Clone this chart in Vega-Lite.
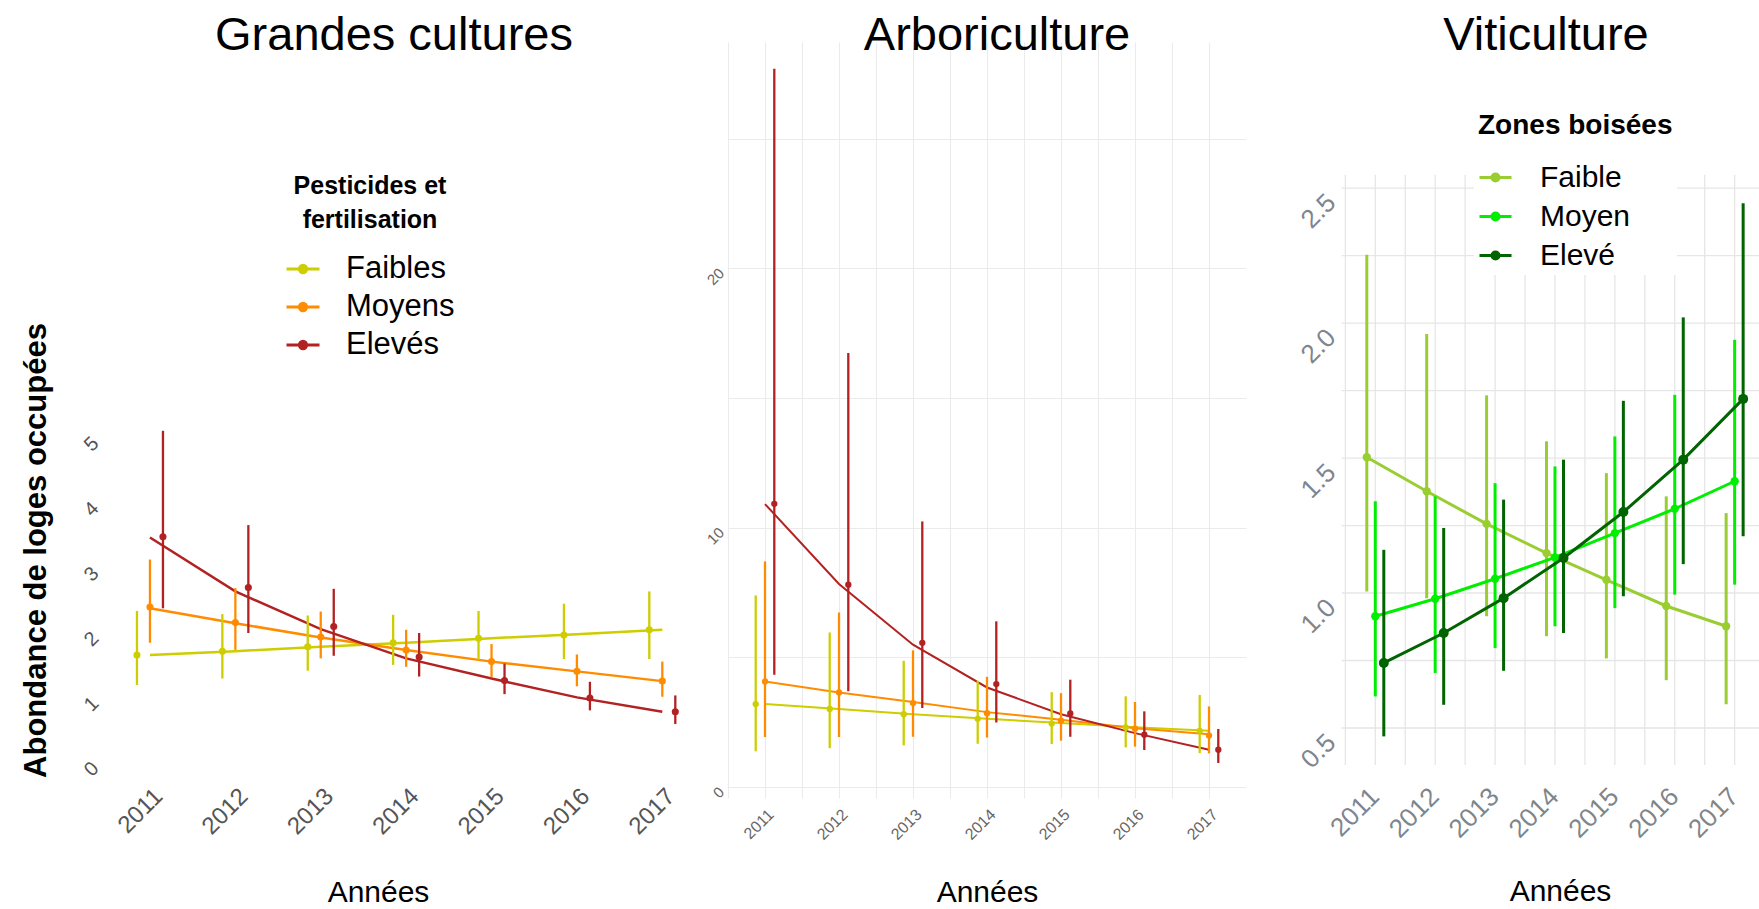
{
  "$schema": "https://vega.github.io/schema/vega-lite/v6.json",
  "padding": {"left": 20, "top": 12, "right": 0, "bottom": 0},
  "bounds": "flush",
  "spacing": 23,
  "config": {
    "font": "Liberation Sans",
    "view": {"stroke": null},
    "axis": {"domain": false, "ticks": false, "grid": false}
  },
  "resolve": {"scale": {"color": "independent"}},
  "datasets": {
    "gc": [
      {"annee": 2011, "niveau": "Faibles", "moy": 1.69, "bas": 1.23, "haut": 2.37},
      {"annee": 2012, "niveau": "Faibles", "moy": 1.75, "bas": 1.33, "haut": 2.32},
      {"annee": 2013, "niveau": "Faibles", "moy": 1.82, "bas": 1.45, "haut": 2.30},
      {"annee": 2014, "niveau": "Faibles", "moy": 1.88, "bas": 1.54, "haut": 2.31},
      {"annee": 2015, "niveau": "Faibles", "moy": 1.95, "bas": 1.62, "haut": 2.37},
      {"annee": 2016, "niveau": "Faibles", "moy": 2.00, "bas": 1.63, "haut": 2.48},
      {"annee": 2017, "niveau": "Faibles", "moy": 2.08, "bas": 1.63, "haut": 2.67},
      {"annee": 2011, "niveau": "Moyens", "moy": 2.43, "bas": 1.88, "haut": 3.16},
      {"annee": 2012, "niveau": "Moyens", "moy": 2.19, "bas": 1.77, "haut": 2.72},
      {"annee": 2013, "niveau": "Moyens", "moy": 1.97, "bas": 1.64, "haut": 2.36},
      {"annee": 2014, "niveau": "Moyens", "moy": 1.77, "bas": 1.51, "haut": 2.08},
      {"annee": 2015, "niveau": "Moyens", "moy": 1.59, "bas": 1.35, "haut": 1.86},
      {"annee": 2016, "niveau": "Moyens", "moy": 1.44, "bas": 1.21, "haut": 1.70},
      {"annee": 2017, "niveau": "Moyens", "moy": 1.29, "bas": 1.05, "haut": 1.59},
      {"annee": 2011, "niveau": "Elevés", "moy": 3.51, "bas": 2.41, "haut": 5.14},
      {"annee": 2012, "niveau": "Elevés", "moy": 2.73, "bas": 2.03, "haut": 3.69},
      {"annee": 2013, "niveau": "Elevés", "moy": 2.13, "bas": 1.68, "haut": 2.71},
      {"annee": 2014, "niveau": "Elevés", "moy": 1.66, "bas": 1.36, "haut": 2.03},
      {"annee": 2015, "niveau": "Elevés", "moy": 1.30, "bas": 1.09, "haut": 1.56},
      {"annee": 2016, "niveau": "Elevés", "moy": 1.03, "bas": 0.84, "haut": 1.28},
      {"annee": 2017, "niveau": "Elevés", "moy": 0.82, "bas": 0.63, "haut": 1.07}
    ],
    "gc_fit": [
      {"annee": 2011, "niveau": "Faibles", "fit": 1.69},
      {"annee": 2012, "niveau": "Faibles", "fit": 1.75},
      {"annee": 2013, "niveau": "Faibles", "fit": 1.82},
      {"annee": 2014, "niveau": "Faibles", "fit": 1.88},
      {"annee": 2015, "niveau": "Faibles", "fit": 1.95},
      {"annee": 2016, "niveau": "Faibles", "fit": 2.01},
      {"annee": 2017, "niveau": "Faibles", "fit": 2.08},
      {"annee": 2011, "niveau": "Moyens", "fit": 2.41},
      {"annee": 2012, "niveau": "Moyens", "fit": 2.18},
      {"annee": 2013, "niveau": "Moyens", "fit": 1.96},
      {"annee": 2014, "niveau": "Moyens", "fit": 1.77},
      {"annee": 2015, "niveau": "Moyens", "fit": 1.59},
      {"annee": 2016, "niveau": "Moyens", "fit": 1.44},
      {"annee": 2017, "niveau": "Moyens", "fit": 1.29},
      {"annee": 2011, "niveau": "Elevés", "fit": 3.50},
      {"annee": 2012, "niveau": "Elevés", "fit": 2.67},
      {"annee": 2013, "niveau": "Elevés", "fit": 2.09},
      {"annee": 2014, "niveau": "Elevés", "fit": 1.64},
      {"annee": 2015, "niveau": "Elevés", "fit": 1.33},
      {"annee": 2016, "niveau": "Elevés", "fit": 1.04},
      {"annee": 2017, "niveau": "Elevés", "fit": 0.82}
    ],
    "ar": [
      {"annee": 2011, "niveau": "Faibles", "moy": 3.20, "bas": 1.38, "haut": 7.39},
      {"annee": 2012, "niveau": "Faibles", "moy": 3.01, "bas": 1.50, "haut": 5.96},
      {"annee": 2013, "niveau": "Faibles", "moy": 2.81, "bas": 1.61, "haut": 4.87},
      {"annee": 2014, "niveau": "Faibles", "moy": 2.63, "bas": 1.67, "haut": 4.10},
      {"annee": 2015, "niveau": "Faibles", "moy": 2.45, "bas": 1.66, "haut": 3.66},
      {"annee": 2016, "niveau": "Faibles", "moy": 2.30, "bas": 1.53, "haut": 3.50},
      {"annee": 2017, "niveau": "Faibles", "moy": 2.17, "bas": 1.31, "haut": 3.55},
      {"annee": 2011, "niveau": "Moyens", "moy": 4.07, "bas": 1.93, "haut": 8.70},
      {"annee": 2012, "niveau": "Moyens", "moy": 3.65, "bas": 1.93, "haut": 6.73},
      {"annee": 2013, "niveau": "Moyens", "moy": 3.24, "bas": 1.94, "haut": 5.27},
      {"annee": 2014, "niveau": "Moyens", "moy": 2.85, "bas": 1.91, "haut": 4.25},
      {"annee": 2015, "niveau": "Moyens", "moy": 2.56, "bas": 1.79, "haut": 3.62},
      {"annee": 2016, "niveau": "Moyens", "moy": 2.25, "bas": 1.56, "haut": 3.28},
      {"annee": 2017, "niveau": "Moyens", "moy": 1.99, "bas": 1.30, "haut": 3.11},
      {"annee": 2011, "niveau": "Elevés", "moy": 10.92, "bas": 4.33, "haut": 27.69},
      {"annee": 2012, "niveau": "Elevés", "moy": 7.80, "bas": 3.69, "haut": 16.73},
      {"annee": 2013, "niveau": "Elevés", "moy": 5.56, "bas": 3.05, "haut": 10.24},
      {"annee": 2014, "niveau": "Elevés", "moy": 3.97, "bas": 2.49, "haut": 6.39},
      {"annee": 2015, "niveau": "Elevés", "moy": 2.84, "bas": 1.94, "haut": 4.14},
      {"annee": 2016, "niveau": "Elevés", "moy": 2.02, "bas": 1.43, "haut": 2.92},
      {"annee": 2017, "niveau": "Elevés", "moy": 1.44, "bas": 0.93, "haut": 2.24}
    ],
    "ar_fit": [
      {"annee": 2011, "niveau": "Faibles", "fit": 3.20},
      {"annee": 2012, "niveau": "Faibles", "fit": 3.01},
      {"annee": 2013, "niveau": "Faibles", "fit": 2.81},
      {"annee": 2014, "niveau": "Faibles", "fit": 2.63},
      {"annee": 2015, "niveau": "Faibles", "fit": 2.47},
      {"annee": 2016, "niveau": "Faibles", "fit": 2.31},
      {"annee": 2017, "niveau": "Faibles", "fit": 2.17},
      {"annee": 2011, "niveau": "Moyens", "fit": 4.07},
      {"annee": 2012, "niveau": "Moyens", "fit": 3.65},
      {"annee": 2013, "niveau": "Moyens", "fit": 3.28},
      {"annee": 2014, "niveau": "Moyens", "fit": 2.89},
      {"annee": 2015, "niveau": "Moyens", "fit": 2.60},
      {"annee": 2016, "niveau": "Moyens", "fit": 2.27},
      {"annee": 2017, "niveau": "Moyens", "fit": 2.04},
      {"annee": 2011, "niveau": "Elevés", "fit": 10.91},
      {"annee": 2012, "niveau": "Elevés", "fit": 7.83},
      {"annee": 2013, "niveau": "Elevés", "fit": 5.49},
      {"annee": 2014, "niveau": "Elevés", "fit": 3.84},
      {"annee": 2015, "niveau": "Elevés", "fit": 2.81},
      {"annee": 2016, "niveau": "Elevés", "fit": 2.08},
      {"annee": 2017, "niveau": "Elevés", "fit": 1.44}
    ],
    "vi": [
      {"annee": 2011, "zone": "Faible", "moy": 1.503, "bas": 1.006, "haut": 2.253},
      {"annee": 2012, "zone": "Faible", "moy": 1.377, "bas": 0.981, "haut": 1.959},
      {"annee": 2013, "zone": "Faible", "moy": 1.256, "bas": 0.914, "haut": 1.732},
      {"annee": 2014, "zone": "Faible", "moy": 1.148, "bas": 0.840, "haut": 1.562},
      {"annee": 2015, "zone": "Faible", "moy": 1.049, "bas": 0.758, "haut": 1.444},
      {"annee": 2016, "zone": "Faible", "moy": 0.952, "bas": 0.677, "haut": 1.358},
      {"annee": 2017, "zone": "Faible", "moy": 0.877, "bas": 0.588, "haut": 1.296},
      {"annee": 2011, "zone": "Moyen", "moy": 0.914, "bas": 0.617, "haut": 1.340},
      {"annee": 2012, "zone": "Moyen", "moy": 0.979, "bas": 0.704, "haut": 1.358},
      {"annee": 2013, "zone": "Moyen", "moy": 1.053, "bas": 0.796, "haut": 1.407},
      {"annee": 2014, "zone": "Moyen", "moy": 1.132, "bas": 0.877, "haut": 1.469},
      {"annee": 2015, "zone": "Moyen", "moy": 1.222, "bas": 0.944, "haut": 1.580},
      {"annee": 2016, "zone": "Moyen", "moy": 1.312, "bas": 0.994, "haut": 1.734},
      {"annee": 2017, "zone": "Moyen", "moy": 1.414, "bas": 1.031, "haut": 1.938},
      {"annee": 2011, "zone": "Elevé", "moy": 0.741, "bas": 0.469, "haut": 1.160},
      {"annee": 2012, "zone": "Elevé", "moy": 0.852, "bas": 0.586, "haut": 1.241},
      {"annee": 2013, "zone": "Elevé", "moy": 0.981, "bas": 0.712, "haut": 1.346},
      {"annee": 2014, "zone": "Elevé", "moy": 1.130, "bas": 0.852, "haut": 1.494},
      {"annee": 2015, "zone": "Elevé", "moy": 1.300, "bas": 0.988, "haut": 1.712},
      {"annee": 2016, "zone": "Elevé", "moy": 1.494, "bas": 1.107, "haut": 2.021},
      {"annee": 2017, "zone": "Elevé", "moy": 1.719, "bas": 1.210, "haut": 2.444}
    ],
    "vi_gx": [
      {"g": 2010.5}, {"g": 2011}, {"g": 2011.5}, {"g": 2012}, {"g": 2012.5}, {"g": 2013}, {"g": 2013.5}, {"g": 2014},
      {"g": 2014.5}, {"g": 2015}, {"g": 2015.5}, {"g": 2016}, {"g": 2016.5}, {"g": 2017}
    ],
    "vi_gy": [
      {"g": 0.5}, {"g": 0.75}, {"g": 1.0}, {"g": 1.25}, {"g": 1.5}, {"g": 1.75}, {"g": 2.0}, {"g": 2.25}, {"g": 2.5}
    ]
  },
  "hconcat": [
    {
      "width": 602,
      "height": 736,
      "title": {"text": "Grandes cultures", "fontSize": 47, "fontWeight": "normal", "color": "black", "frame": "group", "anchor": "middle", "baseline": "alphabetic", "offset": -55, "dx": -10},
      "layer": [
        {
          "data": {"name": "gc_fit"},
          "mark": {"type": "line", "strokeWidth": 2.5},
          "encoding": {
            "x": {"field": "annee", "type": "quantitative", "title": "Années", "scale": {"domain": [2010.45, 2017.5], "nice": false, "zero": false}, "axis": {"values": [2011, 2012, 2013, 2014, 2015, 2016, 2017], "tickCount": 40, "format": "d", "labelAngle": -45, "labelAlign": "right", "labelBaseline": "top", "labelFontSize": 24, "labelColor": "#555555", "labelPadding": 6, "labelFlush": false, "labelOverlap": false, "titleFontSize": 30, "titleFontWeight": "normal", "titleColor": "black", "titlePadding": 39, "titleX": 275}},
            "y": {"field": "fit", "type": "quantitative", "title": "Abondance de loges occupées", "scale": {"domain": [-0.2, 11.12], "nice": false, "zero": false}, "axis": {"values": [0, 1, 2, 3, 4, 5], "tickCount": 40, "format": "d", "labelAngle": -45, "labelAlign": "right", "labelBaseline": "middle", "labelFontSize": 20, "labelColor": "#555555", "labelPadding": 8, "labelOverlap": false, "labelFlush": false, "titleFontSize": 31, "titleFontWeight": "bold", "titleColor": "black", "titlePadding": 28, "titleY": 508}},
            "color": {"field": "niveau", "type": "nominal", "scale": {"domain": ["Faibles", "Moyens", "Elevés"], "range": ["#CDCD00", "#FF8C00", "#B22222"]}, "legend": {"orient": "none", "legendX": 182, "legendY": 132, "title": ["Pesticides et", "fertilisation"], "titleFontSize": 25, "titleFontWeight": "bold", "titleColor": "black", "titleLineHeight": 34, "titleAnchor": "middle", "titleAlign": "center", "titlePadding": 18, "titleLimit": 400, "labelFontSize": 31, "labelColor": "black", "labelOffset": 25, "labelLimit": 300, "symbolType": "M-1,0H1M-0.22,0A0.22,0.22,0,1,0,0.22,0A0.22,0.22,0,1,0,-0.22,0", "symbolSize": 1089, "symbolStrokeWidth": 3, "rowPadding": 5, "padding": 0}}
          }
        },
        {
          "data": {"name": "gc"},
          "transform": [{"filter": "datum.niveau === 'Faibles'"}],
          "layer": [
            {"mark": {"type": "rule", "strokeWidth": 2.3, "xOffset": -13}, "encoding": {
              "x": {"field": "annee", "type": "quantitative", "title": "Années", "scale": {"domain": [2010.45, 2017.5], "nice": false, "zero": false}},
              "y": {"field": "bas", "type": "quantitative", "title": "Abondance de loges occupées", "scale": {"domain": [-0.2, 11.12], "nice": false, "zero": false}},
              "y2": {"field": "haut"},
              "color": {"field": "niveau", "type": "nominal", "scale": {"domain": ["Faibles", "Moyens", "Elevés"], "range": ["#CDCD00", "#FF8C00", "#B22222"]}}
            }},
            {"mark": {"type": "point", "filled": true, "opacity": 1, "size": 50, "xOffset": -13}, "encoding": {
              "x": {"field": "annee", "type": "quantitative", "title": "Années", "scale": {"domain": [2010.45, 2017.5], "nice": false, "zero": false}},
              "y": {"field": "moy", "type": "quantitative", "title": "Abondance de loges occupées", "scale": {"domain": [-0.2, 11.12], "nice": false, "zero": false}},
              "color": {"field": "niveau", "type": "nominal", "scale": {"domain": ["Faibles", "Moyens", "Elevés"], "range": ["#CDCD00", "#FF8C00", "#B22222"]}}
            }}
          ]
        },
        {
          "data": {"name": "gc"},
          "transform": [{"filter": "datum.niveau === 'Moyens'"}],
          "layer": [
            {"mark": {"type": "rule", "strokeWidth": 2.3}, "encoding": {
              "x": {"field": "annee", "type": "quantitative", "title": "Années", "scale": {"domain": [2010.45, 2017.5], "nice": false, "zero": false}},
              "y": {"field": "bas", "type": "quantitative", "title": "Abondance de loges occupées", "scale": {"domain": [-0.2, 11.12], "nice": false, "zero": false}},
              "y2": {"field": "haut"},
              "color": {"field": "niveau", "type": "nominal", "scale": {"domain": ["Faibles", "Moyens", "Elevés"], "range": ["#CDCD00", "#FF8C00", "#B22222"]}}
            }},
            {"mark": {"type": "point", "filled": true, "opacity": 1, "size": 50}, "encoding": {
              "x": {"field": "annee", "type": "quantitative", "title": "Années", "scale": {"domain": [2010.45, 2017.5], "nice": false, "zero": false}},
              "y": {"field": "moy", "type": "quantitative", "title": "Abondance de loges occupées", "scale": {"domain": [-0.2, 11.12], "nice": false, "zero": false}},
              "color": {"field": "niveau", "type": "nominal", "scale": {"domain": ["Faibles", "Moyens", "Elevés"], "range": ["#CDCD00", "#FF8C00", "#B22222"]}}
            }}
          ]
        },
        {
          "data": {"name": "gc"},
          "transform": [{"filter": "datum.niveau === 'Elevés'"}],
          "layer": [
            {"mark": {"type": "rule", "strokeWidth": 2.3, "xOffset": 13}, "encoding": {
              "x": {"field": "annee", "type": "quantitative", "title": "Années", "scale": {"domain": [2010.45, 2017.5], "nice": false, "zero": false}},
              "y": {"field": "bas", "type": "quantitative", "title": "Abondance de loges occupées", "scale": {"domain": [-0.2, 11.12], "nice": false, "zero": false}},
              "y2": {"field": "haut"},
              "color": {"field": "niveau", "type": "nominal", "scale": {"domain": ["Faibles", "Moyens", "Elevés"], "range": ["#CDCD00", "#FF8C00", "#B22222"]}}
            }},
            {"mark": {"type": "point", "filled": true, "opacity": 1, "size": 50, "xOffset": 13}, "encoding": {
              "x": {"field": "annee", "type": "quantitative", "title": "Années", "scale": {"domain": [2010.45, 2017.5], "nice": false, "zero": false}},
              "y": {"field": "moy", "type": "quantitative", "title": "Abondance de loges occupées", "scale": {"domain": [-0.2, 11.12], "nice": false, "zero": false}},
              "color": {"field": "niveau", "type": "nominal", "scale": {"domain": ["Faibles", "Moyens", "Elevés"], "range": ["#CDCD00", "#FF8C00", "#B22222"]}}
            }}
          ]
        }
      ]
    },
    {
      "width": 518,
      "height": 756,
      "title": {"text": "Arboriculture", "fontSize": 47, "fontWeight": "normal", "color": "black", "frame": "group", "anchor": "middle", "baseline": "alphabetic", "offset": -55, "dx": 10},
      "layer": [
        {
          "data": {"name": "ar_fit"},
          "mark": {"type": "line", "strokeWidth": 2},
          "encoding": {
            "x": {"field": "annee", "type": "quantitative", "title": "Années", "scale": {"domain": [2010.5, 2017.5], "nice": false, "zero": false}, "axis": {"values": [2010.5, 2011, 2011.5, 2012, 2012.5, 2013, 2013.5, 2014, 2014.5, 2015, 2015.5, 2016, 2016.5, 2017], "tickCount": 40, "labelExpr": "datum.value % 1 == 0 ? format(datum.value, 'd') : ''", "grid": true, "gridColor": "#EBEBEB", "gridWidth": 1.1, "labelAngle": -45, "labelAlign": "right", "labelBaseline": "top", "labelFontSize": 16, "labelColor": "#666666", "labelPadding": 8, "labelFlush": false, "labelOverlap": false, "titleFontSize": 30, "titleFontWeight": "normal", "titleColor": "black", "titlePadding": 35}},
            "y": {"field": "fit", "type": "quantitative", "title": null, "scale": {"domain": [-0.42, 28.72], "nice": false, "zero": false}, "axis": {"values": [0, 5, 10, 15, 20, 25], "tickCount": 40, "labelExpr": "datum.value % 10 == 0 ? format(datum.value, 'd') : ''", "grid": true, "gridColor": "#EBEBEB", "gridWidth": 1.1, "labelAngle": -45, "labelAlign": "right", "labelBaseline": "middle", "labelFontSize": 15, "labelColor": "#666666", "labelPadding": 7, "labelOffset": 2, "labelOverlap": false, "labelFlush": false}},
            "color": {"field": "niveau", "type": "nominal", "scale": {"domain": ["Faibles", "Moyens", "Elevés"], "range": ["#CDCD00", "#FF8C00", "#B22222"]}, "legend": null}
          }
        },
        {
          "data": {"name": "ar"},
          "transform": [{"filter": "datum.niveau === 'Faibles'"}],
          "layer": [
            {"mark": {"type": "rule", "strokeWidth": 2.3, "xOffset": -9.3}, "encoding": {
              "x": {"field": "annee", "type": "quantitative", "title": "Années", "scale": {"domain": [2010.5, 2017.5], "nice": false, "zero": false}},
              "y": {"field": "bas", "type": "quantitative", "title": null, "scale": {"domain": [-0.42, 28.72], "nice": false, "zero": false}},
              "y2": {"field": "haut"},
              "color": {"field": "niveau", "type": "nominal", "scale": {"domain": ["Faibles", "Moyens", "Elevés"], "range": ["#CDCD00", "#FF8C00", "#B22222"]}, "legend": null}
            }},
            {"mark": {"type": "point", "filled": true, "opacity": 1, "size": 40, "xOffset": -9.3}, "encoding": {
              "x": {"field": "annee", "type": "quantitative", "title": "Années", "scale": {"domain": [2010.5, 2017.5], "nice": false, "zero": false}},
              "y": {"field": "moy", "type": "quantitative", "title": null, "scale": {"domain": [-0.42, 28.72], "nice": false, "zero": false}},
              "color": {"field": "niveau", "type": "nominal", "scale": {"domain": ["Faibles", "Moyens", "Elevés"], "range": ["#CDCD00", "#FF8C00", "#B22222"]}, "legend": null}
            }}
          ]
        },
        {
          "data": {"name": "ar"},
          "transform": [{"filter": "datum.niveau === 'Moyens'"}],
          "layer": [
            {"mark": {"type": "rule", "strokeWidth": 2.3}, "encoding": {
              "x": {"field": "annee", "type": "quantitative", "title": "Années", "scale": {"domain": [2010.5, 2017.5], "nice": false, "zero": false}},
              "y": {"field": "bas", "type": "quantitative", "title": null, "scale": {"domain": [-0.42, 28.72], "nice": false, "zero": false}},
              "y2": {"field": "haut"},
              "color": {"field": "niveau", "type": "nominal", "scale": {"domain": ["Faibles", "Moyens", "Elevés"], "range": ["#CDCD00", "#FF8C00", "#B22222"]}, "legend": null}
            }},
            {"mark": {"type": "point", "filled": true, "opacity": 1, "size": 40}, "encoding": {
              "x": {"field": "annee", "type": "quantitative", "title": "Années", "scale": {"domain": [2010.5, 2017.5], "nice": false, "zero": false}},
              "y": {"field": "moy", "type": "quantitative", "title": null, "scale": {"domain": [-0.42, 28.72], "nice": false, "zero": false}},
              "color": {"field": "niveau", "type": "nominal", "scale": {"domain": ["Faibles", "Moyens", "Elevés"], "range": ["#CDCD00", "#FF8C00", "#B22222"]}, "legend": null}
            }}
          ]
        },
        {
          "data": {"name": "ar"},
          "transform": [{"filter": "datum.niveau === 'Elevés'"}],
          "layer": [
            {"mark": {"type": "rule", "strokeWidth": 2.3, "xOffset": 9.3}, "encoding": {
              "x": {"field": "annee", "type": "quantitative", "title": "Années", "scale": {"domain": [2010.5, 2017.5], "nice": false, "zero": false}},
              "y": {"field": "bas", "type": "quantitative", "title": null, "scale": {"domain": [-0.42, 28.72], "nice": false, "zero": false}},
              "y2": {"field": "haut"},
              "color": {"field": "niveau", "type": "nominal", "scale": {"domain": ["Faibles", "Moyens", "Elevés"], "range": ["#CDCD00", "#FF8C00", "#B22222"]}, "legend": null}
            }},
            {"mark": {"type": "point", "filled": true, "opacity": 1, "size": 40, "xOffset": 9.3}, "encoding": {
              "x": {"field": "annee", "type": "quantitative", "title": "Années", "scale": {"domain": [2010.5, 2017.5], "nice": false, "zero": false}},
              "y": {"field": "moy", "type": "quantitative", "title": null, "scale": {"domain": [-0.42, 28.72], "nice": false, "zero": false}},
              "color": {"field": "niveau", "type": "nominal", "scale": {"domain": ["Faibles", "Moyens", "Elevés"], "range": ["#CDCD00", "#FF8C00", "#B22222"]}, "legend": null}
            }}
          ]
        }
      ]
    },
    {
      "width": 492,
      "height": 723,
      "title": {"text": "Viticulture", "fontSize": 47, "fontWeight": "normal", "color": "black", "frame": "group", "anchor": "middle", "baseline": "alphabetic", "offset": -55, "dx": 31},
      "layer": [
        {
          "data": {"name": "vi_gx"},
          "mark": {"type": "rule", "color": "#E6E6E6", "strokeWidth": 1.3},
          "encoding": {
            "x": {"field": "g", "type": "quantitative", "title": "Années", "scale": {"domain": [2009.225, 2017.44], "nice": false, "zero": false}, "axis": {"values": [2011, 2012, 2013, 2014, 2015, 2016, 2017], "tickCount": 40, "format": "d", "labelAngle": -45, "labelAlign": "right", "labelBaseline": "top", "labelFontSize": 26, "labelColor": "#80858c", "labelPadding": 18, "labelOffset": -10, "labelFlush": false, "labelOverlap": false, "titleFontSize": 30, "titleFontWeight": "normal", "titleColor": "black", "titlePadding": 34, "titleX": 291}},
            "y": {"datum": 0.363, "type": "quantitative", "title": null, "scale": {"domain": [0.363, 3.041], "nice": false, "zero": false}, "axis": {"values": [0.5, 1, 1.5, 2, 2.5], "tickCount": 40, "format": ".1f", "labelAngle": -45, "labelAlign": "right", "labelBaseline": "middle", "labelFontSize": 26, "labelColor": "#80858c", "labelPadding": 11, "labelOffset": 10, "offset": -73, "labelOverlap": false, "labelFlush": false}},
            "y2": {"datum": 2.549}
          }
        },
        {
          "data": {"name": "vi_gy"},
          "mark": {"type": "rule", "color": "#E6E6E6", "strokeWidth": 1.3},
          "encoding": {
            "y": {"field": "g", "type": "quantitative", "title": null, "scale": {"domain": [0.363, 3.041], "nice": false, "zero": false}},
            "x": {"datum": 2010.44, "type": "quantitative", "title": "Années", "scale": {"domain": [2009.225, 2017.44], "nice": false, "zero": false}},
            "x2": {"datum": 2017.44}
          }
        },
        {
          "data": {"name": "vi"},
          "transform": [{"filter": "datum.zone === 'Faible'"}],
          "layer": [
            {"mark": {"type": "line", "strokeWidth": 3, "xOffset": -8.5}, "encoding": {
              "x": {"field": "annee", "type": "quantitative", "title": "Années", "scale": {"domain": [2009.225, 2017.44], "nice": false, "zero": false}},
              "y": {"field": "moy", "type": "quantitative", "title": null, "scale": {"domain": [0.363, 3.041], "nice": false, "zero": false}},
              "color": {"field": "zone", "type": "nominal", "scale": {"domain": ["Faible", "Moyen", "Elevé"], "range": ["#9ACD32", "#00EE00", "#006400"]}, "legend": {"orient": "none", "legendX": 205, "legendY": 66, "title": "Zones boisées", "titleFontSize": 28, "titleFontWeight": "bold", "titleColor": "black", "titleAnchor": "start", "titlePadding": 20, "titleLimit": 400, "labelFontSize": 30, "labelColor": "black", "labelOffset": 27, "labelLimit": 300, "symbolType": "M-1,0H1M-0.22,0A0.22,0.22,0,1,0,0.22,0A0.22,0.22,0,1,0,-0.22,0", "symbolSize": 1024, "symbolStrokeWidth": 3, "rowPadding": 6, "padding": 4, "fillColor": "white"}}
            }},
            {"mark": {"type": "rule", "strokeWidth": 3, "xOffset": -8.5}, "encoding": {
              "x": {"field": "annee", "type": "quantitative", "title": "Années", "scale": {"domain": [2009.225, 2017.44], "nice": false, "zero": false}},
              "y": {"field": "bas", "type": "quantitative", "title": null, "scale": {"domain": [0.363, 3.041], "nice": false, "zero": false}},
              "y2": {"field": "haut"},
              "color": {"field": "zone", "type": "nominal", "scale": {"domain": ["Faible", "Moyen", "Elevé"], "range": ["#9ACD32", "#00EE00", "#006400"]}}
            }},
            {"mark": {"type": "point", "filled": true, "opacity": 1, "size": 70, "xOffset": -8.5}, "encoding": {
              "x": {"field": "annee", "type": "quantitative", "title": "Années", "scale": {"domain": [2009.225, 2017.44], "nice": false, "zero": false}},
              "y": {"field": "moy", "type": "quantitative", "title": null, "scale": {"domain": [0.363, 3.041], "nice": false, "zero": false}},
              "color": {"field": "zone", "type": "nominal", "scale": {"domain": ["Faible", "Moyen", "Elevé"], "range": ["#9ACD32", "#00EE00", "#006400"]}}
            }}
          ]
        },
        {
          "data": {"name": "vi"},
          "transform": [{"filter": "datum.zone === 'Moyen'"}],
          "layer": [
            {"mark": {"type": "line", "strokeWidth": 3}, "encoding": {
              "x": {"field": "annee", "type": "quantitative", "title": "Années", "scale": {"domain": [2009.225, 2017.44], "nice": false, "zero": false}},
              "y": {"field": "moy", "type": "quantitative", "title": null, "scale": {"domain": [0.363, 3.041], "nice": false, "zero": false}},
              "color": {"field": "zone", "type": "nominal", "scale": {"domain": ["Faible", "Moyen", "Elevé"], "range": ["#9ACD32", "#00EE00", "#006400"]}}
            }},
            {"mark": {"type": "rule", "strokeWidth": 3}, "encoding": {
              "x": {"field": "annee", "type": "quantitative", "title": "Années", "scale": {"domain": [2009.225, 2017.44], "nice": false, "zero": false}},
              "y": {"field": "bas", "type": "quantitative", "title": null, "scale": {"domain": [0.363, 3.041], "nice": false, "zero": false}},
              "y2": {"field": "haut"},
              "color": {"field": "zone", "type": "nominal", "scale": {"domain": ["Faible", "Moyen", "Elevé"], "range": ["#9ACD32", "#00EE00", "#006400"]}}
            }},
            {"mark": {"type": "point", "filled": true, "opacity": 1, "size": 70}, "encoding": {
              "x": {"field": "annee", "type": "quantitative", "title": "Années", "scale": {"domain": [2009.225, 2017.44], "nice": false, "zero": false}},
              "y": {"field": "moy", "type": "quantitative", "title": null, "scale": {"domain": [0.363, 3.041], "nice": false, "zero": false}},
              "color": {"field": "zone", "type": "nominal", "scale": {"domain": ["Faible", "Moyen", "Elevé"], "range": ["#9ACD32", "#00EE00", "#006400"]}}
            }}
          ]
        },
        {
          "data": {"name": "vi"},
          "transform": [{"filter": "datum.zone === 'Elevé'"}],
          "layer": [
            {"mark": {"type": "line", "strokeWidth": 3, "xOffset": 8.5}, "encoding": {
              "x": {"field": "annee", "type": "quantitative", "title": "Années", "scale": {"domain": [2009.225, 2017.44], "nice": false, "zero": false}},
              "y": {"field": "moy", "type": "quantitative", "title": null, "scale": {"domain": [0.363, 3.041], "nice": false, "zero": false}},
              "color": {"field": "zone", "type": "nominal", "scale": {"domain": ["Faible", "Moyen", "Elevé"], "range": ["#9ACD32", "#00EE00", "#006400"]}}
            }},
            {"mark": {"type": "rule", "strokeWidth": 3, "xOffset": 8.5}, "encoding": {
              "x": {"field": "annee", "type": "quantitative", "title": "Années", "scale": {"domain": [2009.225, 2017.44], "nice": false, "zero": false}},
              "y": {"field": "bas", "type": "quantitative", "title": null, "scale": {"domain": [0.363, 3.041], "nice": false, "zero": false}},
              "y2": {"field": "haut"},
              "color": {"field": "zone", "type": "nominal", "scale": {"domain": ["Faible", "Moyen", "Elevé"], "range": ["#9ACD32", "#00EE00", "#006400"]}}
            }},
            {"mark": {"type": "point", "filled": true, "opacity": 1, "size": 100, "xOffset": 8.5}, "encoding": {
              "x": {"field": "annee", "type": "quantitative", "title": "Années", "scale": {"domain": [2009.225, 2017.44], "nice": false, "zero": false}},
              "y": {"field": "moy", "type": "quantitative", "title": null, "scale": {"domain": [0.363, 3.041], "nice": false, "zero": false}},
              "color": {"field": "zone", "type": "nominal", "scale": {"domain": ["Faible", "Moyen", "Elevé"], "range": ["#9ACD32", "#00EE00", "#006400"]}}
            }}
          ]
        }
      ]
    }
  ]
}
